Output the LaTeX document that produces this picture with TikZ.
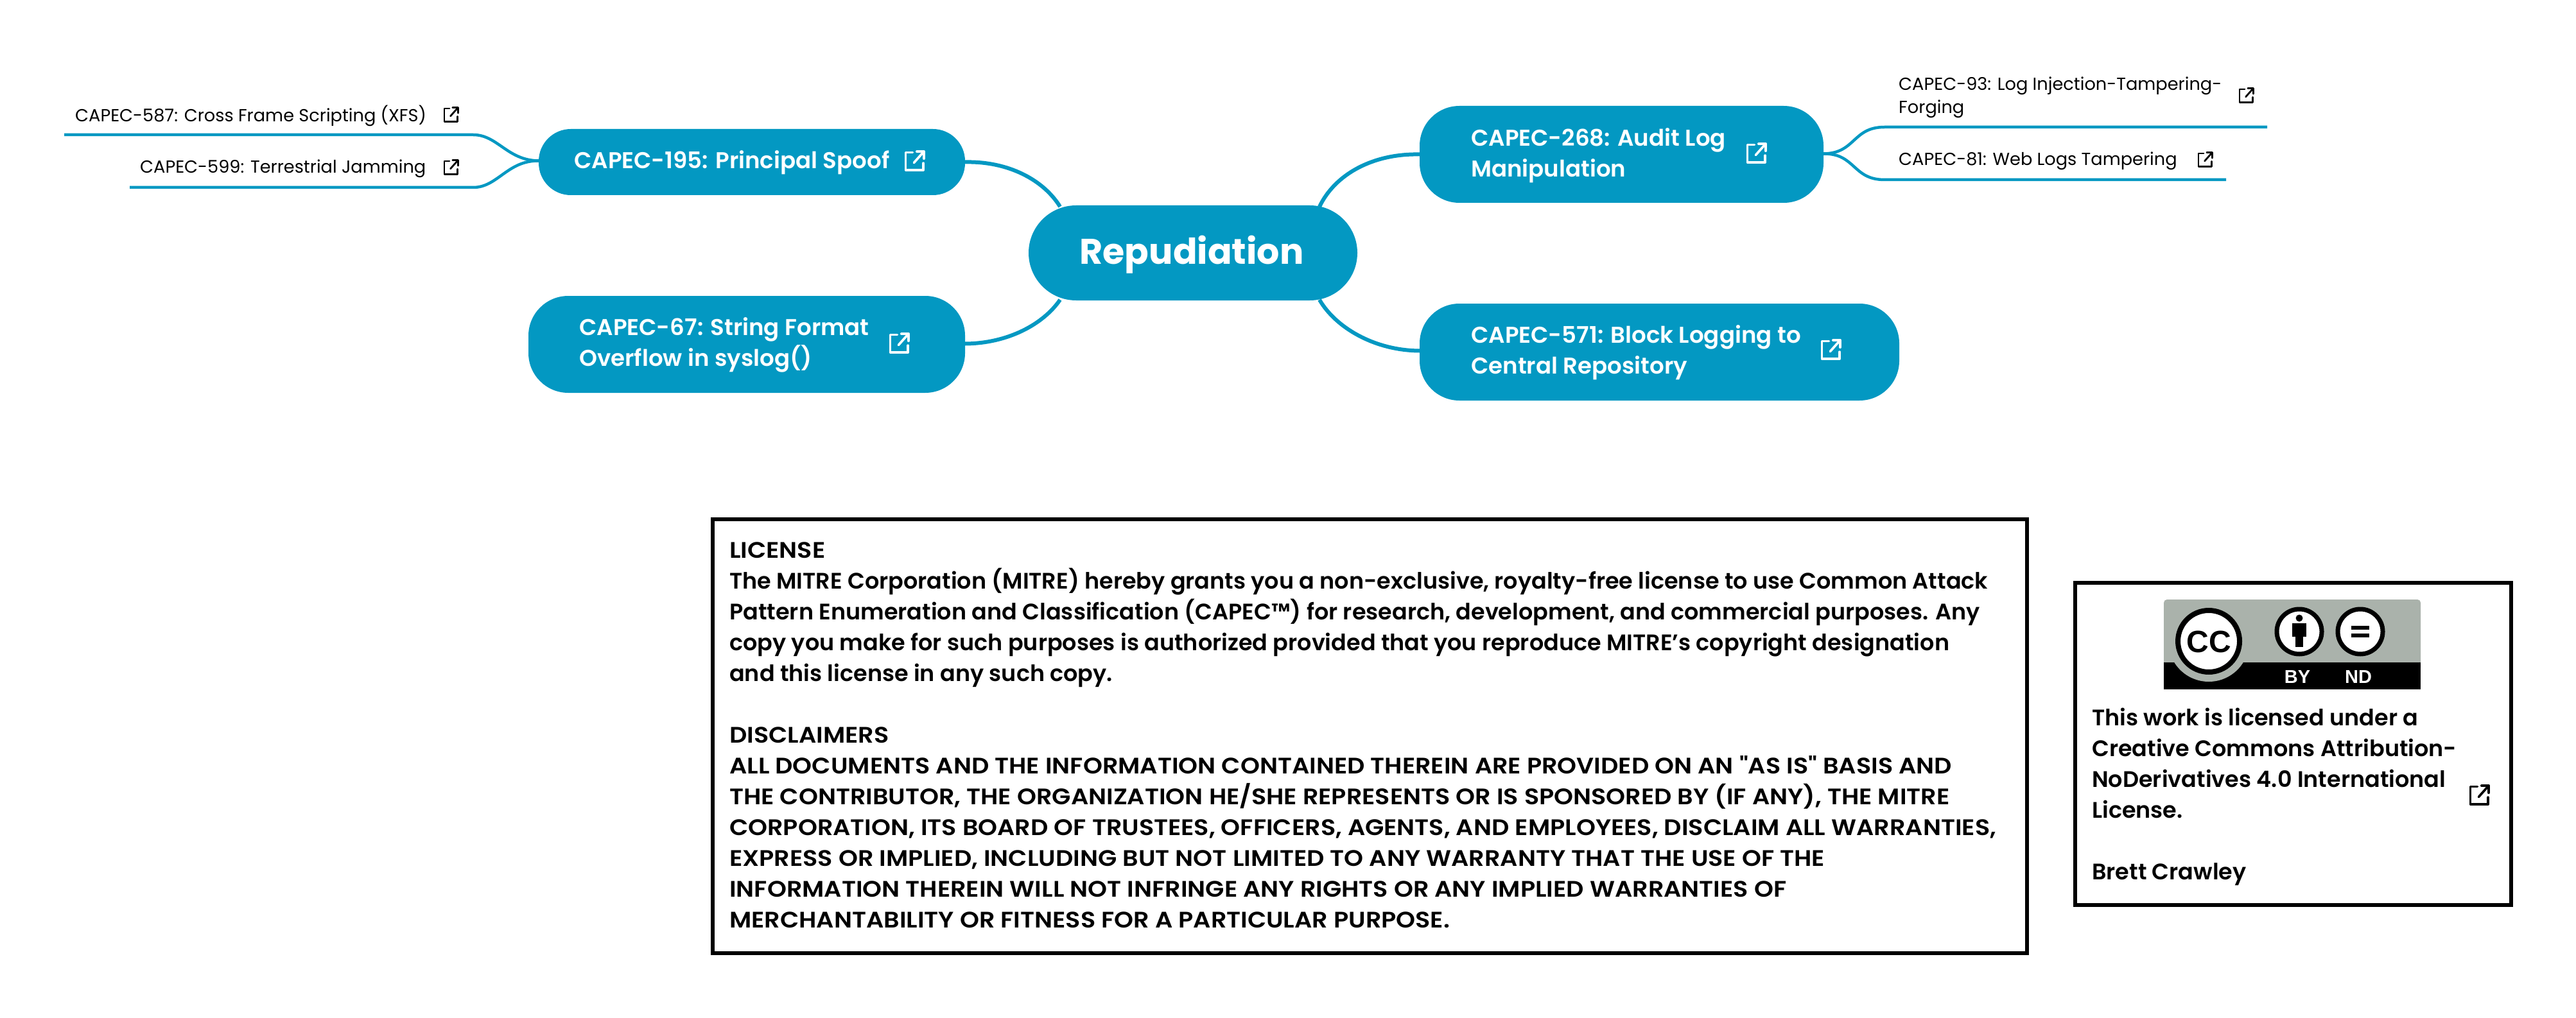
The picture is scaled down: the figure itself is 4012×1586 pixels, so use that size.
\documentclass[tikz,border=0pt]{standalone}
\usepackage{fontspec}
\setmainfont{Poppins}[UprightFont=* SemiBold,BoldFont=* SemiBold]
\newfontfamily\leaffont{Poppins}
\newfontfamily\rootfont{Poppins}[UprightFont=* Bold]
\newfontfamily\capsfont{Poppins}[UprightFont=* SemiBold,FakeStretch=1.09,Ligatures=TeXOff]
\definecolor{mapblue}{HTML}{0398C2}
\definecolor{ccgray}{HTML}{AAB2AB}
\newcommand{\linkicon}[4]{%
\begin{scope}[shift={(#1,#2)},x=#3pt,y=-#3pt,draw=#4,line cap=round,line join=round,line width=0.115*#3pt]
\draw (-0.08,-0.42) -- (-0.42,-0.42) -- (-0.42,0.44) -- (0.44,0.44) -- (0.44,0.1);
\draw (-0.02,0.08) -- (0.46,-0.46);
\draw (0.12,-0.47) -- (0.47,-0.47) -- (0.47,-0.12);
\end{scope}}
\newcommand{\pxsize}[2]{\fontsize{#1}{#2}\selectfont}
\tikzset{
 topic/.style={fill=mapblue,draw=none,rounded corners=#1,inner sep=0pt,outer sep=0pt},
 conn/.style={draw=mapblue,line width=6pt},
 leafconn/.style={draw=mapblue,line width=4.5pt},
 toptext/.style={text=white,font=\bfseries\pxsize{35.6}{48},align=left,anchor=west,inner sep=0pt},
 leaftext/.style={text=black,font=\leaffont\pxsize{27.2}{36},align=left,anchor=west,inner sep=0pt},
 bodytext/.style={text=black,font=\pxsize{35}{48},align=left,anchor=north west,inner sep=0pt},
 framebox/.style={draw=black,line width=6pt,fill=white,inner sep=0pt,outer sep=0pt},
}
\begin{document}
\begin{tikzpicture}[x=1pt,y=-1pt]
\useasboundingbox (0,0) rectangle (4012,1586);
% topic boxes
\node[topic=74pt,minimum width=512pt,minimum height=148pt] (root) at (1858,394) {};
\node[topic=50pt,minimum width=664pt,minimum height=103pt] (spoof) at (1171,252.5) {};
\node[topic=62pt,minimum width=680pt,minimum height=151pt] (fmt) at (1163,536.5) {};
\node[topic=62pt,minimum width=629pt,minimum height=151pt] (audit) at (2525.5,240.5) {};
\node[topic=62pt,minimum width=747pt,minimum height=151pt] (block) at (2584.5,548.5) {};
% root attachment points
\coordinate (rnw) at (1651,322);
\coordinate (rne) at (2055,322);
\coordinate (rsw) at (1651,467);
\coordinate (rse) at (2055,467);
\draw[conn] (spoof.east) .. controls (1570,251) and (1625,280) .. (rnw);
\draw[conn] (fmt.east) ++(0,-1) .. controls (1570,535) and (1625,505) .. (rsw);
\draw[conn] (audit.west) .. controls (2140,239) and (2080,270) .. (rne);
\draw[conn] (block.west) ++(0,-2) .. controls (2140,546) and (2080,510) .. (rse);
% root and topic labels
\node[text=white,font=\rootfont\pxsize{55.5}{60},inner sep=0pt] (roottext) at (1856,397) {Repudiation};
\node[toptext] (t195) at (894,253) {CAPEC-195: Principal Spoof};
\node[toptext] (t67) at (902,537) {CAPEC-67: String Format\\Overflow in syslog()};
\node[toptext] (t268) at (2291,242) {CAPEC-268: Audit Log\\Manipulation};
\node[toptext] (t571) at (2291,549) {CAPEC-571: Block Logging to\\Central Repository};
\linkicon{1424}{251}{32}{white}
\linkicon{1400}{535}{32}{white}
\linkicon{2735}{239}{32}{white}
\linkicon{2851}{545}{32}{white}
% leaves
\coordinate (l587) at (100,210);
\coordinate (l599) at (202,292);
\coordinate (l93) at (3531,198);
\coordinate (l81) at (3467,280);
\draw[leafconn] (spoof.west) ++(0,-2) .. controls (790,250) and (775,210) .. (737,210) -- (l587);
\draw[leafconn] (spoof.west) ++(0,-2) .. controls (790,250) and (775,292) .. (737,292) -- (l599);
\draw[leafconn] (audit.east) ++(0,-1) .. controls (2890,239) and (2885,198) .. (2935,198) -- (l93);
\draw[leafconn] (audit.east) ++(0,-1) .. controls (2890,239) and (2885,280) .. (2935,280) -- (l81);
\node[leaftext] (t587) at (117,180.5) {CAPEC-587: Cross Frame Scripting (XFS)};
\node[leaftext] (t599) at (218,262.5) {CAPEC-599: Terrestrial Jamming};
\node[leaftext] (t93) at (2957,151.5) {CAPEC-93: Log Injection-Tampering-\\Forging};
\node[leaftext] (t81) at (2957,250.5) {CAPEC-81: Web Logs Tampering};
\linkicon{702}{179}{24}{black}
\linkicon{702}{261}{24}{black}
\linkicon{3498}{149}{24}{black}
\linkicon{3434}{249}{24}{black}
% license box
\node[framebox,minimum width=2047pt,minimum height=676pt] (lic) at (2133.5,1147) {};
\node[bodytext] (lictext) at (1136,845) {{\capsfont LICENSE}\\
The MITRE Corporation (MITRE) hereby grants you a non-exclusive, royalty-free license to use Common Attack\\
Pattern Enumeration and Classification (CAPEC™) for research, development, and commercial purposes. Any\\
copy you make for such purposes is authorized provided that you reproduce MITRE’s copyright designation\\
and this license in any such copy.\\
\\
{\capsfont DISCLAIMERS}\\
{\capsfont ALL DOCUMENTS AND THE INFORMATION CONTAINED THEREIN ARE PROVIDED ON AN "AS IS" BASIS AND}\\
{\capsfont THE CONTRIBUTOR, THE ORGANIZATION HE/SHE REPRESENTS OR IS SPONSORED BY (IF ANY), THE MITRE}\\
{\capsfont CORPORATION, ITS BOARD OF TRUSTEES, OFFICERS, AGENTS, AND EMPLOYEES, DISCLAIM ALL WARRANTIES,}\\
{\capsfont EXPRESS OR IMPLIED, INCLUDING BUT NOT LIMITED TO ANY WARRANTY THAT THE USE OF THE}\\
{\capsfont INFORMATION THEREIN WILL NOT INFRINGE ANY RIGHTS OR ANY IMPLIED WARRANTIES OF}\\
{\capsfont MERCHANTABILITY OR FITNESS FOR A PARTICULAR PURPOSE.}};
% CC box
\node[framebox,minimum width=679pt,minimum height=502pt] (ccbox) at (3571.5,1159) {};
\fill[ccgray,rounded corners=5pt] (3370,934) rectangle (3770,1045);
\fill[black] (3370,1032) rectangle (3770,1074);
\fill[ccgray] (3440,999) circle (63);
\fill[ccgray] (3370,999) rectangle (3770,1032);
\fill[white,draw=black,line width=8pt] (3440,999) circle (48);
\node[font=\fontspec{Liberation Sans Bold}\pxsize{48}{50},text=black,inner sep=0pt] (cctext) at (3440,1000) {CC};
\fill[white,draw=black,line width=7pt] (3581,984) circle (35);
\fill[white,draw=black,line width=7pt] (3676,984) circle (35);
\fill[black] (3581,963) circle (5.5);
\fill[black] (3570,971) rectangle (3592,992);
\fill[black] (3575,971) rectangle (3587,1008);
\fill[black] (3662,975) rectangle (3690,981);
\fill[black] (3662,987) rectangle (3690,993);
\node[font=\fontspec{Liberation Sans Bold}\pxsize{29}{30},text=white,inner sep=0pt] (by) at (3578,1054.5) {BY};
\node[font=\fontspec{Liberation Sans Bold}\pxsize{29}{30},text=white,inner sep=0pt] (nd) at (3673,1054.5) {ND};
\node[bodytext] (cctxt) at (3258,1103) {This work is licensed under a\\
Creative Commons Attribution-\\
NoDerivatives 4.0 International\\
License.\\
\\
Brett Crawley};
\linkicon{3861}{1239}{32}{black}
\end{tikzpicture}
\end{document}
